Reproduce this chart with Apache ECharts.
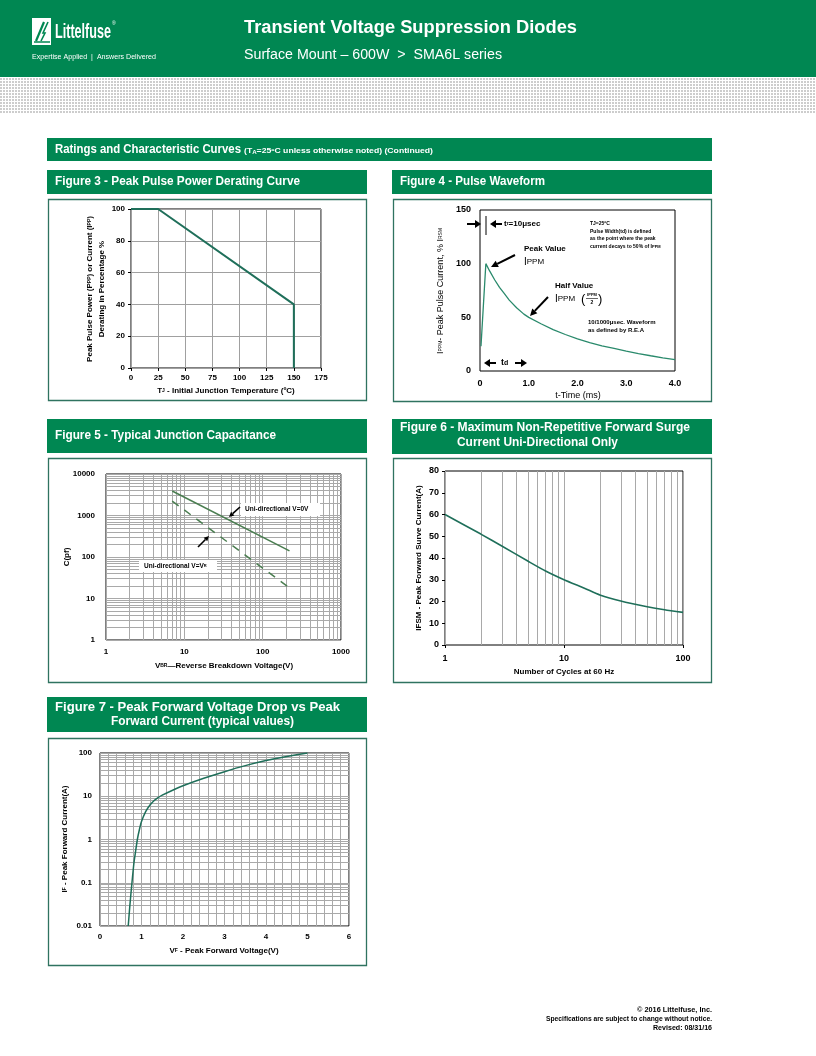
<!DOCTYPE html>
<html><head><meta charset="utf-8">
<script src="https://cdn.jsdelivr.net/npm/echarts@6/dist/echarts.min.js"></script>
<style>html,body{margin:0;padding:0;background:#fff}#c{width:816px;height:1056px}</style>
</head><body><div id="c"></div>
<script>
// ---------- Figure 3 : derating curve ----------
const F3_TEMP = [0, 25, 150, 150];
const F3_PCT  = [100, 100, 40, 0];
// ---------- Figure 4 : pulse waveform ----------
const F4_TIME = [0.02, 0.12, 0.2, 0.3, 0.4, 0.5, 0.6, 0.75, 0.9, 1.0, 1.25, 1.5, 1.75, 2.0, 2.25, 2.5, 2.75, 3.0, 3.25, 3.5, 3.75, 4.0];
const F4_CURR = [23, 100, 93, 85, 78, 72, 66, 59, 53, 50, 44, 38.5, 34, 30, 26.5, 23.5, 21, 18.5, 16.2, 14.2, 12.3, 10.5];
const F4_XLABELS = ['0', '1.0', '2.0', '3.0', '4.0'];
// ---------- Figure 5 : junction capacitance ----------
const F5_VBR   = [7, 220];
const F5_C_0V  = [3900, 140];
const F5_C_VR  = [2230, 18];
const F5_XLABELS = ['1', '10', '100', '1000'];
const F5_YLABELS = ['1', '10', '100', '1000', '10000'];
// ---------- Figure 6 : surge current ----------
const F6_CYCLES = [1, 2, 3, 5, 7, 10, 15, 20, 30, 50, 70, 100];
const F6_IFSM   = [60, 51, 45.5, 38.5, 34, 30, 26, 23, 20.2, 17.6, 16.2, 15];
const F6_XLABELS = ['1', '10', '100'];
// ---------- Figure 7 : forward voltage ----------
const F7_VF = [0.68, 0.72, 0.77, 0.82, 0.86, 0.9, 0.95, 1.0, 1.1, 1.2, 1.3, 1.4, 1.5, 1.75, 2.0, 2.5, 3.0, 3.5, 4.0, 4.5, 5.0];
const F7_IF = [0.01, 0.03, 0.1, 0.3, 0.55, 1, 1.7, 2.6, 4.4, 6.2, 7.9, 9.3, 10.6, 13.8, 17.5, 26, 37, 51, 67, 83, 100];
const F7_YLABELS = ['0.01', '0.1', '1', '10', '100'];

const GREEN = '#008752';
const BOX = '#2f7360';
const CURVE = '#1f6f5a';
const GRIDC = '#a9a9a9';
const ARIAL = '"Liberation Sans",Arial,sans-serif';

function logMinors(lo, hi) {
  const out = [];
  for (let d = lo; d < hi * 0.999; d *= 10) for (let k = 2; k <= 9; k++) out.push(+(k * d).toPrecision(6));
  return out;
}
function pairs(xs, ys) { return xs.map((x, i) => [x, ys[i]]); }
function decadeLabel(arr, base) { return v => arr[Math.round(Math.log10(v)) - base] || ''; }

// ---------- graphic helpers ----------
const G = [];
const mctx = document.createElement('canvas').getContext('2d');
function measure(str, font) { mctx.font = font; return mctx.measureText(str).width; }
function rect(x, y, w, h, fill, stroke, lw) {
  G.push({ type: 'rect', silent: true, z: 50, shape: { x, y, width: w, height: h },
    style: { fill: fill || 'none', stroke: stroke || null, lineWidth: lw || 1 } });
}
function text(x, y, str, font, o) {
  o = o || {};
  G.push({ type: 'text', silent: true, z: 60, x, y, rotation: o.rot || 0, scaleX: o.sx || 1,
    style: { text: str, font, fill: o.color || '#000', align: o.align || 'left', textAlign: o.align || 'left',
      verticalAlign: o.va || 'middle', textVerticalAlign: o.va || 'middle', rich: o.rich } });
}
function fitText(x, y, str, font, w, o) {
  o = o || {}; o.sx = w / measure(str, font); text(x, y, str, font, o);
}
function line(x1, y1, x2, y2, c, lw) {
  G.push({ type: 'line', silent: true, z: 60, shape: { x1, y1, x2, y2 }, style: { stroke: c || '#000', lineWidth: lw || 1 } });
}
function arrow(x1, y1, x2, y2, hl, hw, lw) {
  const dx = x2 - x1, dy = y2 - y1, L = Math.hypot(dx, dy), ux = dx / L, uy = dy / L;
  const bx = x2 - ux * hl, by = y2 - uy * hl;
  line(x1, y1, bx, by, '#000', lw);
  G.push({ type: 'polygon', silent: true, z: 60,
    shape: { points: [[x2, y2], [bx - uy * hw, by + ux * hw], [bx + uy * hw, by - ux * hw]] }, style: { fill: '#000' } });
}

// ---------- page header ----------
rect(0, 0, 816, 77, GREEN);
const pc = document.createElement('canvas'); pc.width = 3; pc.height = 3;
const px = pc.getContext('2d'); px.fillStyle = '#ffffff'; px.fillRect(0, 0, 3, 3); px.fillStyle = '#cdcdcd'; px.fillRect(0, 0, 2, 2);
G.push({ type: 'rect', silent: true, z: 50, shape: { x: 0, y: 78, width: 816, height: 35 }, style: { fill: { image: pc, repeat: 'repeat' } } });
// logo
rect(32, 18, 19, 27, '#fff');
G.push({ type: 'polyline', silent: true, z: 60, shape: { points: [[36, 41], [44, 22]] }, style: { stroke: GREEN, lineWidth: 2.2 } });
G.push({ type: 'polyline', silent: true, z: 60, shape: { points: [[41, 41], [45, 33], [43, 33], [48, 22]] }, style: { stroke: GREEN, lineWidth: 1.6, fill: 'none' } });
line(34, 42, 50, 42, GREEN, 1.5);
fitText(55, 32, 'Littelfuse', 'bold 21px ' + ARIAL, 56, { color: '#fff' });
text(112, 24, '®', '5px ' + ARIAL, { color: '#fff' });
fitText(32, 57, 'Expertise Applied  |  Answers Delivered', '7px ' + ARIAL, 124, { color: '#fff' });
fitText(244, 28, 'Transient Voltage Suppression Diodes', 'bold 18px ' + ARIAL, 333, { color: '#fff' });
fitText(244, 55, 'Surface Mount – 600W  >  SMA6L series', '14px ' + ARIAL, 258, { color: '#fff' });

// section bar
rect(47, 138, 665, 23, GREEN);
fitText(55, 150, 'Ratings and Characteristic Curves', 'bold 12.5px ' + ARIAL, 186, { color: '#fff' });
{
  const f1 = 'bold 7px ' + ARIAL, f2 = 'bold 5px ' + ARIAL;
  const s1 = '(T', s2 = 'A', s3 = '=25ºC unless otherwise noted) (Continued)';
  const W = measure(s1, f1) + measure(s2, f2) + measure(s3, f1);
  text(244, 151, '{a|' + s1 + '}{b|' + s2 + '}{a|' + s3 + '}', '', { color: '#fff', sx: 189 / W,
    rich: { a: { font: f1, color: '#fff' }, b: { font: f2, color: '#fff', padding: [4, 0, 0, 0] } } });
}

// figure headers
const HF = 'bold 12.5px ' + ARIAL;
rect(47, 170, 320, 24, GREEN); fitText(55, 182, 'Figure 3 - Peak Pulse Power Derating Curve', HF, 245, { color: '#fff' });
rect(392, 170, 320, 24, GREEN); fitText(400, 182, 'Figure 4 - Pulse Waveform', HF, 145, { color: '#fff' });
rect(47, 419, 320, 34, GREEN); fitText(55, 436, 'Figure 5 - Typical Junction Capacitance', HF, 221, { color: '#fff' });
rect(392, 419, 320, 35, GREEN);
fitText(400, 428, 'Figure 6 - Maximum Non-Repetitive Forward Surge', HF, 290, { color: '#fff' });
fitText(457, 443, 'Current Uni-Directional Only', HF, 161, { color: '#fff' });
rect(47, 697, 320, 35, GREEN);
fitText(55, 708, 'Figure 7 - Peak Forward Voltage Drop vs Peak', HF, 285, { color: '#fff' });
fitText(111, 722, 'Forward Current (typical values)', HF, 183, { color: '#fff' });

// figure boxes
rect(48.5, 199.5, 318, 201, null, BOX, 1.3);
rect(393.5, 199.5, 318, 202, null, BOX, 1.3);
rect(48.5, 458.5, 318, 224, null, BOX, 1.3);
rect(393.5, 458.5, 318, 224, null, BOX, 1.3);
rect(48.5, 738.5, 318, 227, null, BOX, 1.3);

// ---------- axis names ----------
const AB = 'bold 8px ' + ARIAL;
const RICHSUB = (f) => ({ n: { font: 'bold ' + f + 'px ' + ARIAL }, s: { font: 'bold ' + Math.round(f * 0.6) + 'px ' + ARIAL } });
text(90, 289, '{n|Peak Pulse Power (P}{s|PP}{n|) or Current (I}{s|PP}{n|)}', '', { rot: Math.PI / 2, align: 'center', rich: RICHSUB(8) });
text(102, 289, 'Derating in Percentage %', AB, { rot: Math.PI / 2, align: 'center' });
text(226, 391, '{n|T}{s|J}{n| - Initial Junction Temperature (ºC)}', '', { align: 'center', rich: RICHSUB(8) });

text(441, 291, '{n|I}{s|PPM}{n|- Peak Pulse Current, % I}{s|RSM}', '', { rot: Math.PI / 2, align: 'center',
  rich: { n: { font: '9px ' + ARIAL }, s: { font: '5px ' + ARIAL } } });
text(578, 396, 't-Time (ms)', '9px ' + ARIAL, { align: 'center' });

text(67, 557, 'C(pf)', AB, { rot: Math.PI / 2, align: 'center' });
text(224, 666, '{n|V}{s|BR}{n|—Reverse Breakdown Voltage(V)}', '', { align: 'center', rich: RICHSUB(8) });

text(419, 558, 'IFSM - Peak Forward Surve Current(A)', AB, { rot: Math.PI / 2, align: 'center' });
text(564, 672, 'Number of Cycles at 60 Hz', AB, { align: 'center' });

text(65, 839, '{n|I}{s|F}{n| - Peak Forward Current(A)}', '', { rot: Math.PI / 2, align: 'center', rich: RICHSUB(8) });
text(224, 951, '{n|V}{s|F}{n| - Peak Forward Voltage(V)}', '', { align: 'center', rich: RICHSUB(8) });

// ---------- figure 4 annotations ----------
arrow(467, 224, 481, 224, 6, 4, 2);
line(486, 216, 486, 235, '#000', 1);
arrow(502, 224, 490, 224, 6, 4, 2);
text(504, 224, '{n|t}{s|r}{n|=10μsec}', '', { rich: { n: { font: 'bold 8px ' + ARIAL }, s: { font: 'bold 5px ' + ARIAL } } });
text(524, 249, 'Peak Value', 'bold 8px ' + ARIAL);
text(524, 262, '{n|I}{s|PPM}', '', { rich: { n: { font: '10px ' + ARIAL }, s: { font: '8px ' + ARIAL } } });
arrow(515, 255, 491, 267, 7, 3.5, 2);
text(555, 286, 'Half Value', 'bold 8px ' + ARIAL);
text(555, 299, '{n|I}{s|PPM}', '', { rich: { n: { font: '10px ' + ARIAL }, s: { font: '8px ' + ARIAL } } });
text(581, 299, '(', '13px ' + ARIAL);
text(592, 295, 'IPPM', 'bold 4px ' + ARIAL, { align: 'center' });
line(586, 298.5, 598, 298.5, '#000', 0.6);
text(592, 303, '2', 'bold 5px ' + ARIAL, { align: 'center' });
text(598, 299, ')', '13px ' + ARIAL);
arrow(548, 297, 530, 316, 7, 3.5, 2);
text(590, 224, 'TJ=25ºC', 'bold 5px ' + ARIAL);
text(590, 231.5, 'Pulse Width(td) is defined', 'bold 5px ' + ARIAL);
text(590, 239, 'as the point where the peak', 'bold 5px ' + ARIAL);
text(590, 246.5, '{a|current decays to 50% of I}{b|PPM}', '', { rich: { a: { font: 'bold 5px ' + ARIAL }, b: { font: 'bold 4px ' + ARIAL } } });
text(588, 322, '10/1000μsec. Waveform', 'bold 6px ' + ARIAL);
text(588, 330, 'as defined by R.E.A', 'bold 6px ' + ARIAL);
arrow(496, 363, 484, 363, 6, 4, 2);
text(501, 363, '{n|t}{s|d}', '', { rich: { n: { font: 'bold 9px ' + ARIAL }, s: { font: 'bold 7px ' + ARIAL } } });
arrow(515, 363, 527, 363, 6, 4, 2);

// ---------- figure 5 annotations ----------
rect(241, 503, 79, 13, '#fff');
text(245, 509.5, 'Uni-directional V=0V', 'bold 6.5px ' + ARIAL);
arrow(240, 507, 229, 517, 5, 2.5, 1.6);
rect(139, 560, 78, 12, '#fff');
text(144, 566, '{n|Uni-directional V=V}{s|R}', '', { rich: { n: { font: 'bold 6.5px ' + ARIAL }, s: { font: 'bold 4px ' + ARIAL } } });
arrow(198, 547, 209, 536, 5, 2.5, 1.6);

// footer
const FF = 'bold 7px ' + ARIAL;
fitText(712, 1010, '© 2016 Littelfuse, Inc.', FF, 75, { align: 'right' });
fitText(712, 1019, 'Specifications are subject to change without notice.', FF, 166, { align: 'right' });
fitText(712, 1028, 'Revised: 08/31/16', FF, 59, { align: 'right' });

// ---------- axes ----------
const LBL = (m) => ({ fontSize: 8, fontWeight: 'bold', fontFamily: ARIAL, color: '#000', margin: m });
const SPL = (c) => ({ show: true, lineStyle: { color: c || GRIDC, width: 1 } });
const TICK = { show: true, length: 3, lineStyle: { color: '#000' } };
const grids = [
  { left: 131, top: 209, width: 190, height: 159 },
  { left: 480, top: 210, width: 195, height: 161 },
  { left: 106, top: 474, width: 235, height: 166 },
  { left: 445, top: 471, width: 238, height: 174 },
  { left: 100, top: 753, width: 249, height: 173 }
].map(g => Object.assign(g, { show: true, borderColor: '#000', borderWidth: 1, backgroundColor: '#fff', containLabel: false, outerBoundsMode: 'none' }));

const xAxis = [
  { gridIndex: 0, type: 'value', min: 0, max: 175, interval: 25, axisLine: { show: false }, axisTick: TICK, splitLine: SPL('#a0a0a0'), axisLabel: LBL(6) },
  { gridIndex: 1, type: 'value', min: 0, max: 4, interval: 1, axisLine: { show: false }, axisTick: { show: false }, splitLine: { show: false },
    axisLabel: Object.assign(LBL(8), { fontSize: 9, formatter: v => F4_XLABELS[Math.round(v)] }) },
  { gridIndex: 2, type: 'log', logBase: 10, min: 1, max: 1000, axisLine: { show: false }, axisTick: { show: false }, splitLine: SPL(),
    axisLabel: Object.assign(LBL(8), { formatter: decadeLabel(F5_XLABELS, 0) }) },
  { gridIndex: 3, type: 'log', logBase: 10, min: 1, max: 100, axisLine: { show: false }, axisTick: TICK, splitLine: SPL(),
    axisLabel: Object.assign(LBL(9), { fontSize: 9, formatter: decadeLabel(F6_XLABELS, 0) }) },
  { gridIndex: 4, type: 'value', min: 0, max: 6, interval: 1, axisLine: { show: false }, axisTick: { show: false }, splitLine: SPL(),
    minorTick: { show: false, splitNumber: 5 }, minorSplitLine: { show: true, lineStyle: { color: GRIDC, width: 1 } }, axisLabel: LBL(7) }
];
const yAxis = [
  { gridIndex: 0, type: 'value', min: 0, max: 100, interval: 20, axisLine: { show: false }, axisTick: TICK, splitLine: SPL('#a0a0a0'), axisLabel: LBL(6) },
  { gridIndex: 1, type: 'value', min: 0, max: 150, interval: 50, axisLine: { show: false }, axisTick: { show: false }, splitLine: { show: false },
    axisLabel: Object.assign(LBL(9), { fontSize: 9 }) },
  { gridIndex: 2, type: 'log', logBase: 10, min: 1, max: 10000, axisLine: { show: false }, axisTick: { show: false }, splitLine: SPL(),
    axisLabel: Object.assign(LBL(11), { formatter: decadeLabel(F5_YLABELS, 0) }) },
  { gridIndex: 3, type: 'value', min: 0, max: 80, interval: 10, axisLine: { show: false }, axisTick: TICK, splitLine: { show: false },
    axisLabel: Object.assign(LBL(6), { fontSize: 9 }) },
  { gridIndex: 4, type: 'log', logBase: 10, min: 0.01, max: 100, axisLine: { show: false }, axisTick: { show: false }, splitLine: SPL(),
    axisLabel: Object.assign(LBL(8), { formatter: decadeLabel(F7_YLABELS, -2) }) }
];

function minorSeries(i, xs, ys) {
  return { type: 'line', xAxisIndex: i, yAxisIndex: i, data: [], silent: true, z: 1, animation: false,
    markLine: { silent: true, symbol: ['none', 'none'], label: { show: false }, animation: false,
      lineStyle: { color: GRIDC, width: 1, type: 'solid' }, emphasis: { disabled: true },
      data: xs.map(v => ({ xAxis: v })).concat(ys.map(v => ({ yAxis: v }))) } };
}
function curve(i, data, color, width, extra) {
  return Object.assign({ type: 'line', xAxisIndex: i, yAxisIndex: i, data, showSymbol: false, symbol: 'none', z: 5, animation: false,
    lineStyle: { color, width }, silent: true, smooth: false }, extra || {});
}

const series = [
  curve(0, pairs(F3_TEMP, F3_PCT), CURVE, 2),
  curve(1, pairs(F4_TIME, F4_CURR), '#2a8a6c', 1.3),
  minorSeries(2, logMinors(1, 1000), logMinors(1, 10000)),
  curve(2, pairs(F5_VBR, F5_C_0V), '#4a7d50', 1.5),
  curve(2, pairs(F5_VBR, F5_C_VR), '#4a7d50', 1.5, { lineStyle: { color: '#4a7d50', width: 1.5, type: [8, 7] } }),
  minorSeries(3, logMinors(1, 100), []),
  curve(3, pairs(F6_CYCLES, F6_IFSM), CURVE, 1.6, { smooth: 0.2 }),
  minorSeries(4, [], logMinors(0.01, 100)),
  curve(4, pairs(F7_VF, F7_IF), CURVE, 1.5, { smooth: 0.2 })
];

const chart = echarts.init(document.getElementById('c'), null, { renderer: 'canvas' });
chart.setOption({ animation: false, backgroundColor: '#fff', grid: grids, xAxis, yAxis, series, graphic: { elements: G } });
</script></body></html>
